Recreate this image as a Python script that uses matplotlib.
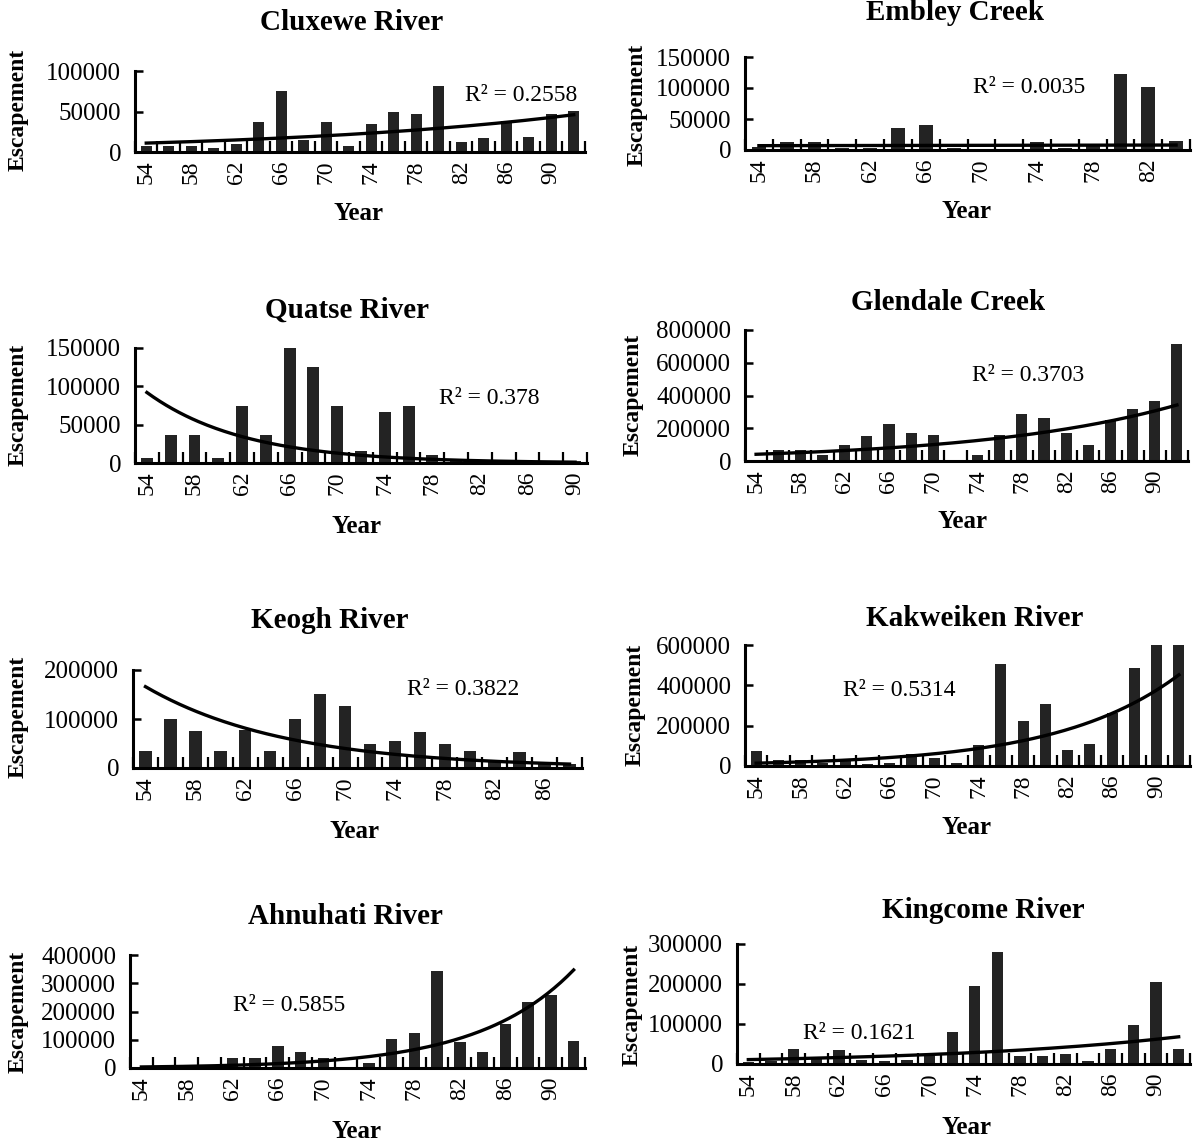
import numpy as np
import matplotlib
matplotlib.use("Agg")
import matplotlib.pyplot as plt

plt.rcParams['font.family'] = ['Liberation Serif', 'DejaVu Serif']

W, H = 1193, 1146

# ---------------- data (even years, 19xx) ----------------
names = ["Cluxewe River", "Embley Creek", "Quatse River", "Glendale Creek",
         "Keogh River", "Kakweiken River", "Ahnuhati River", "Kingcome River"]

years_cluxewe = list(range(54, 93, 2))
esc_cluxewe = [8000, 7000, 8000, 5000, 10000, 37000, 75000, 15000, 37000, 7000,
               34000, 50000, 47000, 81000, 12000, 17000, 38000, 18000, 47000, 51000]

years_embley = list(range(54, 85, 2))
esc_embley = [5000, 13000, 13000, 4000, 4000, 35000, 40000, 3000, 2000, 2000,
              13000, 3000, 7000, 122000, 102000, 15000]

years_quatse = list(range(54, 91, 2))
esc_quatse = [7000, 36000, 36000, 7000, 75000, 36000, 150000, 125000, 75000, 16000,
              67000, 75000, 10000, 3000, 2000, 2000, 2000, 2000, 2000]

years_glendale = list(range(54, 93, 2))
esc_glendale = [5000, 70000, 70000, 35000, 100000, 155000, 225000, 172000, 160000, 5000,
                38000, 160000, 290000, 263000, 168000, 98000, 253000, 317000, 367000, 712000]

years_keogh = list(range(54, 89, 2))
esc_keogh = [35000, 100000, 75000, 35000, 77000, 35000, 100000, 152000, 127000, 50000,
             56000, 74000, 49000, 35000, 16000, 33000, 8000, 8000]

years_kakweiken = list(range(54, 93, 2))
esc_kakweiken = [75000, 30000, 30000, 15000, 25000, 10000, 15000, 58000, 40000, 15000,
                 105000, 505000, 225000, 305000, 78000, 108000, 262000, 485000, 600000, 600000]

years_ahnuhati = list(range(54, 93, 2))
esc_ahnuhati = [2000, 2000, 2000, 3000, 37000, 36000, 79000, 57000, 36000, 5000,
                18000, 104000, 124000, 345000, 91000, 56000, 157000, 232000, 258000, 94000]

years_kingcome = list(range(54, 93, 2))
esc_kingcome = [5000, 8000, 37000, 15000, 36000, 10000, 8000, 10000, 20000, 80000,
                194000, 279000, 20000, 20000, 25000, 8000, 38000, 98000, 206000, 38000]

# exponential trend lines: value at first and last year, R^2
trend_start = [11000, 7000, 92000, 41000, 166000, 14000, 3700, 11000]
trend_end = [46000, 8000, 1100, 342000, 8000, 452000, 347000, 68000]
r2_labels = ["0.2558", "0.0035", "0.378", "0.3703", "0.3822", "0.5314", "0.5855", "0.1621"]

ymax = [100000, 150000, 150000, 800000, 200000, 600000, 400000, 300000]
ystep = [50000, 50000, 50000, 200000, 100000, 200000, 100000, 100000]
xlabel_years = list(range(54, 91, 4))

all_years = [years_cluxewe, years_embley, years_quatse, years_glendale,
             years_keogh, years_kakweiken, years_ahnuhati, years_kingcome]
all_esc = [esc_cluxewe, esc_embley, esc_quatse, esc_glendale,
           esc_keogh, esc_kakweiken, esc_ahnuhati, esc_kingcome]

# ---------------- layout (pixels) ----------------
boxes = [(135, 585, 71, 152), (745, 1190, 57, 150),
         (135, 587, 348, 463), (745, 1188, 330, 461),
         (133, 582, 670, 768), (745, 1190, 645, 766),
         (130, 585, 955, 1068), (737, 1190, 944, 1064)]
title_pos = [(352, 22), (955, 12), (347, 310), (948, 303),
             (330, 621), (975, 618), (345, 916), (983, 911)]
year_pos = [(358, 213), (966, 212), (357, 526), (962, 522),
            (355, 831), (967, 828), (356, 1132), (966, 1127)]
esc_pos = [(18, 110), (637, 105), (18, 405), (633, 395),
           (18, 717), (635, 705), (18, 1012), (632, 1005)]
r2_pos = [(0.733, 0.70), (0.512, 0.667), (0.673, 0.565), (0.512, 0.656),
          (0.61, 0.796), (0.22, 0.628), (0.226, 0.549), (0.146, 0.258)]

fig = plt.figure(figsize=(W / 100, H / 100), dpi=100)
fig.patch.set_facecolor('white')

bar_color = '#232323'

for i in range(8):
    l, r, t, b = boxes[i]
    ax = fig.add_axes([l / W, 1 - b / H, (r - l) / W, (b - t) / H])
    yrs = all_years[i]
    vals = all_esc[i]
    ax.bar(yrs, vals, width=1.0, color=bar_color, zorder=2)

    x0, x1 = yrs[0], yrs[-1]
    xs = np.linspace(x0, x1, 200)
    s, e = trend_start[i], trend_end[i]
    ys = s * (e / s) ** ((xs - x0) / (x1 - x0))
    ax.plot(xs, ys, color='black', lw=2.4, zorder=3)

    ax.set_xlim(x0 - 1, x1 + 1)
    ax.set_ylim(0, ymax[i])
    yt = np.arange(0, ymax[i] + 1, ystep[i])
    ax.set_yticks(yt)
    ax.set_yticklabels([f"{int(v)}" for v in yt])
    xt = [y for y in xlabel_years if y <= x1]
    ax.set_xticks(xt)
    ax.set_xticklabels([str(y) for y in xt], rotation=90)
    ax.set_xticks(np.arange(x0 - 1, x1 + 2, 2), minor=True)
    ax.tick_params(axis='x', which='major', length=0, pad=6, labelsize=17)
    ax.tick_params(axis='x', which='minor', direction='in', length=8, width=1.6)
    ax.tick_params(axis='y', which='major', direction='in', length=6, width=1.8,
                   pad=10, labelsize=18)
    for sp in ['top', 'right']:
        ax.spines[sp].set_visible(False)
    for sp in ['left', 'bottom']:
        ax.spines[sp].set_linewidth(2.2)
    ax.set_facecolor('none')

    ax.text(r2_pos[i][0], r2_pos[i][1], "R\u00b2 = " + r2_labels[i],
            transform=ax.transAxes, ha='left', va='center', fontsize=17)

    fig.text(title_pos[i][0] / W, 1 - title_pos[i][1] / H, names[i],
             ha='center', va='center', fontsize=21, fontweight='bold')
    fig.text(year_pos[i][0] / W, 1 - year_pos[i][1] / H, "Year",
             ha='center', va='center', fontsize=18, fontweight='bold')
    fig.text(esc_pos[i][0] / W, 1 - esc_pos[i][1] / H, "Escapement",
             ha='center', va='center', fontsize=17, fontweight='bold', rotation=90)

fig.savefig("out.png", dpi=100, facecolor='white')
